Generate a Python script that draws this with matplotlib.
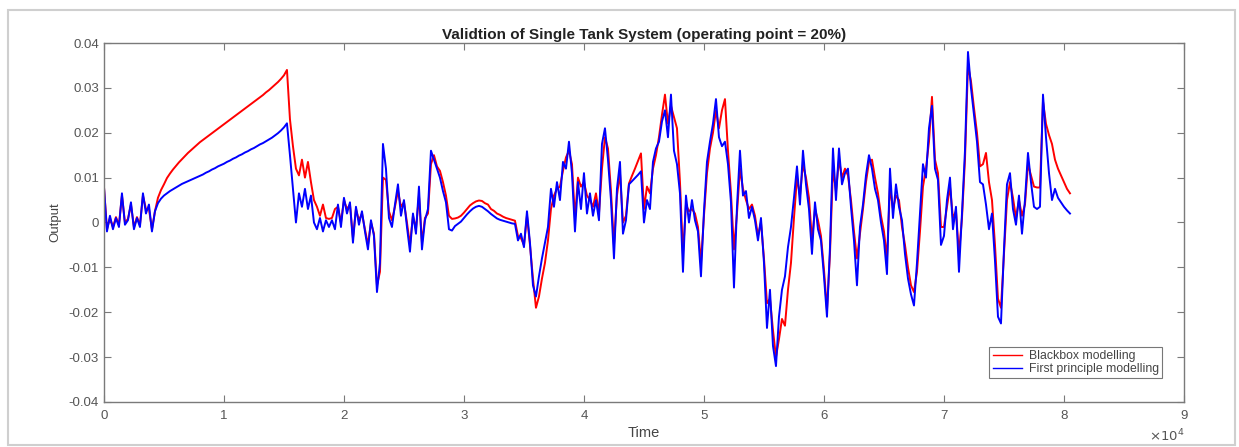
import numpy as np
import matplotlib
matplotlib.use("Agg")
import matplotlib.pyplot as plt
from matplotlib.patches import Rectangle

plt.rcParams['font.family'] = ['Liberation Sans', 'DejaVu Sans']

# model outputs, sampled every 250 s, values in units of 1e-3
sample_period = 250

blackbox_e3 = [
    8.0, -1.5, 1.0, -1.0, 1.2, -0.5, 6.0, 0.0, 0.8, 4.0, -1.0, 1.2, -0.5, 6.0, 3.0, 3.0, -1.5, 2.5, 5.5, 7.2,
    8.5, 9.9, 10.9, 11.8, 12.6, 13.4, 14.1, 14.8, 15.5, 16.1, 16.7, 17.3, 17.9, 18.4, 18.9, 19.4, 19.9, 20.4, 20.9, 21.4,
    21.9, 22.4, 22.9, 23.4, 23.9, 24.4, 24.9, 25.4, 25.9, 26.4, 26.9, 27.4, 27.9, 28.4, 29.0, 29.5, 30.1, 30.7, 31.3, 32.0,
    32.8, 34.0, 23.0, 17.0, 12.0, 10.5, 14.0, 10.0, 13.5, 9.0, 5.0, 3.5, 1.5, 4.0, 1.0, 0.8, 1.0, 3.0, 3.5, 0.0,
    5.0, 3.0, 4.0, -3.5, 3.0, 0.5, 2.0, -1.5, -5.0, 0.0, -2.5, -14.0, -11.0, 10.0, 9.5, 2.5, 0.5, 3.5, 7.0, 3.5,
    4.5, 0.0, -5.0, 1.5, -1.5, 6.0, -4.5, 1.0, 2.0, 13.0, 15.0, 12.5, 11.5, 9.0, 6.0, 1.5, 0.8, 0.9, 1.1, 1.5,
    2.2, 3.0, 3.8, 4.3, 4.7, 4.9, 4.8, 4.3, 4.0, 3.0, 2.6, 2.0, 1.7, 1.3, 1.0, 0.8, 0.6, 0.4, -3.0, -3.5,
    -5.0, 1.5, -5.0, -12.5, -19.0, -16.5, -12.5, -9.0, -4.0, 3.0, 6.0, 7.5, 8.0, 11.5, 14.5, 16.0, 13.0, 1.0, 10.0, 8.0,
    9.0, 6.0, 5.0, 3.5, 6.5, 2.0, 12.0, 19.0, 16.5, 7.0, -5.0, 6.0, 11.0, 0.0, 1.5, 8.7, 10.4, 12.0, 13.7, 15.4,
    3.0, 8.0, 6.5, 12.0, 15.0, 19.0, 24.0, 28.5, 22.0, 26.0, 23.5, 21.0, 9.0, -7.0, 4.0, 2.5, 3.0, 2.0, -1.0, -9.0,
    1.5, 11.0, 16.5, 20.0, 25.0, 21.0, 25.0, 27.5, 16.0, 6.5, -6.0, 2.0, 12.0, 7.5, 5.0, 3.0, 4.0, 1.5, -3.0, 0.0,
    -8.0, -18.0, -17.0, -24.0, -30.0, -26.0, -21.5, -23.0, -15.0, -9.0, 1.0, 10.0, 6.0, 13.0, 10.0, 5.5, -4.0, 3.0, 0.5, -3.0,
    -10.5, -19.5, -7.0, 12.0, 7.0, 14.0, 10.0, 12.0, 10.5, 5.0, -2.0, -8.0, -2.5, 3.0, 9.0, 13.5, 14.0, 10.0, 6.5, 1.5,
    -2.0, -8.0, 8.0, 3.0, 6.0, 5.0, -1.0, -5.0, -10.0, -14.0, -15.5, -11.0, -2.0, 8.0, 12.0, 18.0, 28.0, 14.0, 11.0, -1.0,
    -1.0, 3.5, 8.0, 1.0, 2.5, -7.0, 1.0, 14.0, 35.0, 31.5, 25.5, 20.0, 12.5, 13.0, 15.5, 9.0, 5.0, -5.0, -17.0, -19.0,
    -7.0, 5.0, 9.0, 5.5, 1.0, 5.0, 1.5, 4.0, 13.0, 10.5, 8.0, 7.8, 7.8, 27.0, 22.0, 19.5, 17.5, 14.0, 12.0, 10.5,
    9.0, 7.5, 6.5,
]

first_principle_e3 = [
    8.0, -2.0, 1.5, -1.5, 1.0, -1.0, 6.5, -0.5, 0.5, 4.5, -1.5, 1.0, -1.0, 6.5, 2.0, 4.0, -2.0, 2.5, 4.3, 5.3,
    6.0, 6.5, 7.0, 7.4, 7.8, 8.2, 8.6, 8.9, 9.2, 9.5, 9.8, 10.1, 10.4, 10.7, 11.1, 11.4, 11.8, 12.1, 12.5, 12.8,
    13.1, 13.5, 13.8, 14.2, 14.5, 14.9, 15.2, 15.6, 15.9, 16.3, 16.6, 17.0, 17.4, 17.7, 18.1, 18.5, 18.9, 19.4, 19.9, 20.5,
    21.2, 22.1, 15.0, 7.5, 0.0, 6.5, 3.5, 7.5, 3.0, 6.0, 0.0, -1.5, 1.0, -2.0, 0.5, -1.0, 0.5, -1.5, 4.0, -1.0,
    5.5, 2.0, 4.5, -4.5, 3.5, -0.5, 2.5, -2.0, -6.0, 0.5, -3.0, -15.5, -9.0, 17.5, 12.0, 1.0, -1.0, 4.0, 8.5, 1.5,
    5.0, -1.0, -6.5, 2.0, -2.5, 8.0, -6.0, 0.5, 3.0, 16.0, 14.0, 12.0, 10.0, 7.0, 4.5, -1.5, -1.8, -0.8, -0.3, 0.2,
    1.0, 1.8, 2.5, 3.1, 3.5, 3.7, 3.5, 3.0, 2.5, 1.9, 1.4, 0.9, 0.6, 0.4, 0.2, 0.0, -0.2, -0.3, -4.0, -2.5,
    -5.5, 2.5, -4.5, -14.0, -16.5, -12.0, -8.0, -4.5, -1.0, 7.5, 3.5, 9.0, 5.0, 13.5, 12.0, 18.0, 11.0, -2.0, 9.0, 3.0,
    11.0, 2.0, 6.5, 1.5, 5.0, 0.5, 17.5, 21.0, 14.0, 5.0, -8.0, 7.5, 13.5, -2.5, 0.5, 8.5, 9.2, 9.9, 10.6, 11.4,
    0.0, 5.0, 3.0, 13.5, 16.5, 18.0, 22.5, 25.0, 19.0, 28.5, 16.0, 13.0, 6.5, -11.0, 6.0, 0.0, 5.0, 0.5, -2.0, -12.0,
    2.5, 13.5, 18.0, 22.0, 27.5, 19.0, 17.0, 18.0, 13.0, 4.5, -14.5, 3.5, 16.0, 6.0, 7.0, 1.0, 3.5, 0.5, -4.0, 1.0,
    -9.0, -23.5, -15.0, -27.5, -32.0, -21.0, -15.0, -12.0, -5.5, -1.0, 5.5, 12.5, 4.0, 16.0, 8.5, 3.0, -7.0, 4.5, -1.5, -4.0,
    -12.0, -21.0, -5.5, 16.5, 5.0, 16.5, 8.5, 11.0, 12.0, 3.5, -4.0, -14.0, -1.0, 4.0, 10.5, 15.0, 12.0, 7.5, 5.0, 0.0,
    -4.0, -11.5, 12.0, 1.0, 8.5, 3.5, 0.5, -7.0, -12.5, -16.0, -18.5, -9.0, 2.0, 13.0, 10.0, 21.0, 26.0, 12.0, 9.5, -5.0,
    -3.0, 5.0, 10.0, -1.5, 3.5, -11.0, 2.0, 16.0, 38.0, 30.0, 24.0, 18.0, 9.0, 8.5, 4.0, -1.5, 2.0, -8.5, -21.0, -22.5,
    -6.0, 8.5, 11.0, 3.0, -0.5, 6.0, -2.5, 5.0, 15.5, 9.0, 3.5, 3.0, 3.5, 28.5, 19.0, 11.0, 5.0, 7.5, 5.5, 4.5,
    3.5, 2.7, 2.0,
]

x_ticks = [0, 1, 2, 3, 4, 5, 6, 7, 8, 9]
y_ticks = [-0.04, -0.03, -0.02, -0.01, 0, 0.01, 0.02, 0.03, 0.04]
y_tick_labels = ['-0.04', '-0.03', '-0.02', '-0.01', '0', '0.01', '0.02', '0.03', '0.04']

time = np.arange(len(blackbox_e3)) * sample_period
blackbox = np.array(blackbox_e3) * 1e-3
first_principle = np.array(first_principle_e3) * 1e-3

fig = plt.figure(figsize=(12.39, 4.47), dpi=100)
ax = fig.add_axes([0.0839, 0.1007, 0.8717, 0.8031])

ax.plot(time, blackbox, color='#ff0000', lw=1.4, label='Blackbox modelling')
ax.plot(time, first_principle, color='#0000ff', lw=1.4, label='First principle modelling')

ax.set_xlim(0, 90000)
ax.set_ylim(-0.04, 0.04)
ax.set_xticks([v * 1e4 for v in x_ticks])
ax.set_xticklabels([str(v) for v in x_ticks])
ax.set_yticks(y_ticks)
ax.set_yticklabels(y_tick_labels)

grey = '#555555'
for s in ax.spines.values():
    s.set_color('#7a7a7a')
    s.set_linewidth(1.0)
ax.tick_params(direction='in', length=5, width=0.8, colors='#7a7a7a',
               labelcolor=grey, labelsize=9.5, top=True, right=True)
ax.tick_params(axis='x', pad=6)

ax.set_title('Validtion of Single Tank System (operating point = 20%)',
             fontsize=11, fontweight='bold', color='#222222', pad=3)
ax.set_xlabel('Time', fontsize=10.5, color='#444444', labelpad=3)
ax.set_ylabel('Output', fontsize=9.5, color='#444444', labelpad=5)
ax.text(1.0, -0.072, r'$\times10^4$', transform=ax.transAxes, ha='right', va='top',
        fontsize=9.5, color=grey)

leg = ax.legend(loc='lower right', bbox_to_anchor=(0.98, 0.067), fontsize=8.8,
                frameon=True, fancybox=False, borderpad=0.25, labelspacing=0.05,
                handlelength=2.4, handletextpad=0.6, borderaxespad=0)
leg.get_frame().set_edgecolor('#555555')
leg.get_frame().set_linewidth(0.8)
for line in leg.get_lines():
    line.set_linewidth(1.0)
for txt in leg.get_texts():
    txt.set_color('#444444')

# light frame around the whole figure
fig.patches.append(Rectangle((8 / 1239, 2 / 447), 1227 / 1239, 435 / 447,
                             transform=fig.transFigure, fill=False,
                             edgecolor='#cfcfcf', lw=1.5))

fig.savefig('out.png', dpi=100)
